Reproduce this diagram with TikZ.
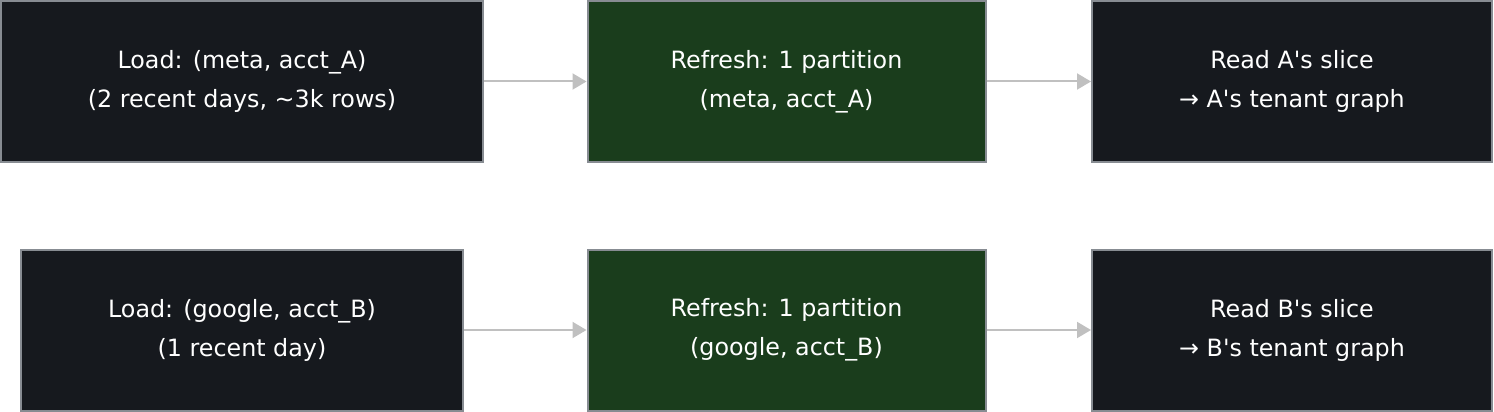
\documentclass[tikz,border=0pt]{standalone}
\usepackage{fontspec}
\setmainfont{DejaVu Sans}
\usetikzlibrary{arrows.meta}
\definecolor{darkbox}{RGB}{22,25,30}
\definecolor{greenbox}{RGB}{26,61,28}
\definecolor{edgegray}{RGB}{135,140,146}
\definecolor{arrowgray}{RGB}{192,192,192}
\begin{document}
\begin{tikzpicture}[x=1pt,y=-1pt,
  box/.style={draw=edgegray,line width=2pt,text=white,align=center,
    font=\fontsize{23.8}{39}\selectfont,inner sep=0pt},
  darknode/.style={box,fill=darkbox},
  greennode/.style={box,fill=greenbox},
  conn/.style={draw=arrowgray,line width=2pt,-{Triangle[length=14pt,width=16pt]}}]
\useasboundingbox (0,0) rectangle (1494,412);
\node[darknode,minimum width=482pt,minimum height=161pt] (a1) at (242,81.5) {Load: (meta, acct\_A)\\(2 recent days, \textasciitilde3k rows)};
\node[greennode,minimum width=398pt,minimum height=161pt] (a2) at (786.5,81.5) {Refresh: 1 partition\\(meta, acct\_A)};
\node[darknode,minimum width=400pt,minimum height=161pt] (a3) at (1292,81.5) {Read A\textquotesingle s slice\\→ A\textquotesingle s tenant graph};
\node[darknode,minimum width=442pt,minimum height=161pt] (b1) at (242,330) {Load: (google, acct\_B)\\(1 recent day)};
\node[greennode,minimum width=398pt,minimum height=161pt] (b2) at (786.5,330) {Refresh: 1 partition\\(google, acct\_B)};
\node[darknode,minimum width=400pt,minimum height=161pt] (b3) at (1292,330) {Read B\textquotesingle s slice\\→ B\textquotesingle s tenant graph};
\draw[conn] (a1) -- (a2);
\draw[conn] (a2) -- (a3);
\draw[conn] (b1) -- (b2);
\draw[conn] (b2) -- (b3);
\end{tikzpicture}
\end{document}
